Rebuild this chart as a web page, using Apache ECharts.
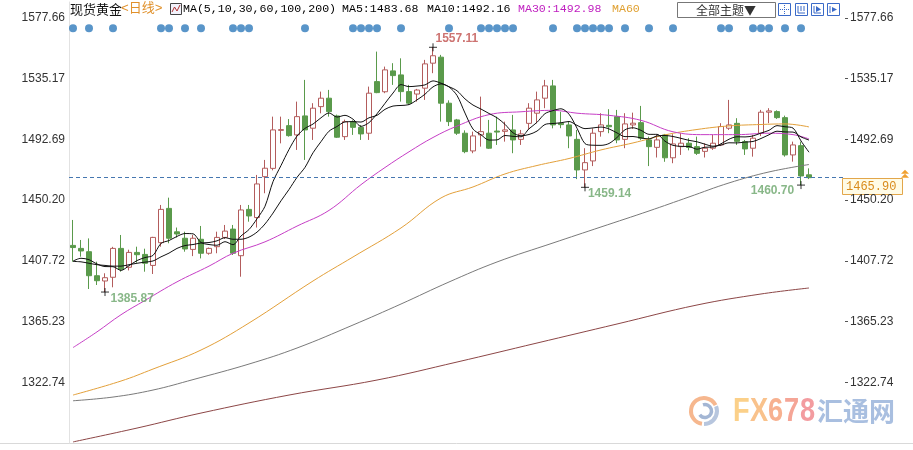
<!DOCTYPE html>
<html><head><meta charset="utf-8">
<script src="https://cdn.jsdelivr.net/npm/echarts@6/dist/echarts.min.js"></script>
<style>html,body{margin:0;padding:0;background:#fff}#c{width:913px;height:450px}</style>
</head><body><div id="c"></div>
<script>
// ---- data ----
const categories = ['2019-07-03','2019-07-04','2019-07-05','2019-07-08','2019-07-09','2019-07-10','2019-07-11','2019-07-12','2019-07-15','2019-07-16',
'2019-07-17','2019-07-18','2019-07-19','2019-07-22','2019-07-23','2019-07-24','2019-07-25','2019-07-26','2019-07-29','2019-07-30',
'2019-07-31','2019-08-01','2019-08-02','2019-08-05','2019-08-06','2019-08-07','2019-08-08','2019-08-09','2019-08-12','2019-08-13',
'2019-08-14','2019-08-15','2019-08-16','2019-08-19','2019-08-20','2019-08-21','2019-08-22','2019-08-23','2019-08-26','2019-08-27',
'2019-08-28','2019-08-29','2019-08-30','2019-09-02','2019-09-03','2019-09-04','2019-09-05','2019-09-06','2019-09-09','2019-09-10',
'2019-09-11','2019-09-12','2019-09-13','2019-09-16','2019-09-17','2019-09-18','2019-09-19','2019-09-20','2019-09-23','2019-09-24',
'2019-09-25','2019-09-26','2019-09-27','2019-09-30','2019-10-01','2019-10-02','2019-10-03','2019-10-04','2019-10-07','2019-10-08',
'2019-10-09','2019-10-10','2019-10-11','2019-10-14','2019-10-15','2019-10-16','2019-10-17','2019-10-18','2019-10-21','2019-10-22',
'2019-10-23','2019-10-24','2019-10-25','2019-10-28','2019-10-29','2019-10-30','2019-10-31','2019-11-01','2019-11-04','2019-11-05',
'2019-11-06','2019-11-07','2019-11-08'];
const opens = [1418.5,1416.4,1414.1,1397.3,1393.6,1396.2,1416.4,1403.2,1413.6,1412.2,
1404.5,1420.4,1444.4,1428.0,1423.5,1415.7,1422.8,1413.0,1417.6,1424.1,
1429.9,1411.3,1443.7,1438.0,1466.6,1472.4,1499.0,1502.3,1495.8,1509.1,
1500.5,1515.6,1521.5,1509.1,1494.6,1505.1,1501.1,1497.0,1533.1,1526.0,
1540.6,1537.8,1526.1,1524.4,1528.5,1546.0,1550.2,1518.0,1506.3,1497.0,
1484.6,1495.8,1497.0,1498.5,1498.3,1499.3,1492.7,1503.9,1511.0,1521.5,
1530.1,1504.0,1502.8,1492.7,1471.3,1477.6,1498.1,1502.5,1508.6,1492.7,
1502.8,1504.4,1492.3,1487.1,1495.8,1479.8,1487.6,1490.0,1487.6,1484.3,
1486.5,1488.8,1500.5,1503.9,1491.1,1486.5,1497.0,1511.7,1512.1,1507.9,
1481.8,1488.3,1467.9];
const closes = [1417.0,1414.6,1397.3,1393.8,1395.9,1416.4,1401.8,1413.6,1412.0,1406.0,
1424.1,1443.7,1423.5,1426.5,1416.0,1423.5,1413.0,1416.4,1424.1,1428.5,
1413.0,1443.3,1439.1,1461.5,1472.5,1499.3,1499.5,1495.3,1508.6,1499.3,
1514.5,1521.5,1512.1,1494.2,1505.1,1501.1,1496.5,1525.0,1525.4,1541.3,
1537.3,1526.1,1518.0,1527.2,1545.5,1551.2,1518.0,1505.1,1497.0,1484.1,
1495.1,1498.1,1486.5,1497.8,1499.3,1492.3,1496.5,1514.5,1520.3,1530.1,
1502.8,1503.0,1495.1,1471.3,1476.4,1497.0,1502.8,1501.5,1492.3,1503.5,
1504.0,1493.5,1487.6,1492.3,1479.8,1489.5,1490.0,1487.0,1482.9,1486.5,
1490.0,1501.7,1502.8,1491.3,1486.0,1493.5,1511.7,1512.6,1507.9,1481.8,
1488.8,1467.1,1465.9];
const lows = [1407.1,1410.6,1388.0,1390.8,1385.87,1389.2,1400.1,1401.0,1406.4,1400.1,
1398.5,1417.6,1420.0,1424.0,1414.1,1411.0,1409.4,1412.0,1413.0,1423.0,
1411.8,1396.6,1435.1,1431.0,1455.0,1471.0,1489.9,1494.6,1485.3,1478.3,
1492.3,1510.9,1508.6,1493.7,1492.3,1495.8,1492.3,1492.3,1525.0,1525.0,
1530.8,1519.1,1516.8,1519.1,1520.3,1539.0,1505.1,1502.0,1495.8,1483.0,
1483.0,1487.6,1486.0,1488.8,1491.1,1483.0,1488.8,1499.3,1504.0,1514.5,
1500.4,1500.5,1486.5,1464.9,1459.14,1474.0,1494.6,1497.0,1490.0,1486.5,
1500.0,1492.3,1474.0,1480.0,1477.0,1476.0,1481.8,1485.0,1481.8,1480.0,
1485.3,1488.0,1499.3,1488.8,1481.8,1480.6,1495.0,1504.0,1507.0,1480.6,
1477.1,1460.70,1464.9];
const highs = [1436.3,1422.3,1423.4,1407.1,1399.0,1417.5,1425.8,1415.5,1417.6,1416.2,
1424.5,1446.8,1451.9,1431.0,1428.1,1425.8,1432.1,1417.0,1428.1,1432.8,
1432.8,1446.8,1446.8,1467.8,1478.3,1508.6,1508.6,1506.9,1519.1,1534.3,
1518.0,1526.1,1527.3,1510.0,1506.5,1506.0,1502.7,1529.6,1554.1,1543.6,
1546.0,1549.4,1530.8,1528.0,1548.3,1557.11,1551.8,1520.0,1507.0,1499.0,
1498.1,1522.6,1506.3,1508.6,1505.1,1509.8,1499.3,1518.0,1526.1,1534.3,
1534.3,1512.0,1505.1,1499.3,1486.5,1500.4,1511.0,1513.8,1513.3,1511.0,
1511.4,1516.1,1494.6,1495.8,1496.5,1496.3,1497.0,1493.5,1494.6,1489.9,
1495.8,1504.0,1520.3,1507.5,1492.3,1495.8,1513.3,1514.5,1513.0,1509.3,
1491.1,1491.1,1472.4];
const ma5 = [1407.5,1409.5,1408.5,1405.5,1403.7,1403.6,1401.0,1404.3,1407.9,1410.0,
1411.5,1419.9,1421.9,1424.8,1426.8,1426.6,1420.5,1419.1,1418.6,1421.1,
1419.0,1425.1,1429.6,1437.1,1445.9,1463.1,1474.4,1485.6,1495.0,1500.4,
1503.4,1507.8,1511.2,1508.3,1509.5,1506.8,1501.8,1504.4,1510.6,1517.9,
1525.1,1531.0,1529.6,1530.0,1530.8,1533.6,1532.0,1529.4,1523.4,1511.1,
1499.9,1495.9,1492.2,1492.3,1495.4,1494.8,1494.5,1500.1,1504.6,1510.7,
1512.8,1514.1,1510.3,1500.5,1489.7,1488.6,1488.5,1489.8,1494.0,1499.4,
1500.8,1499.0,1496.2,1496.2,1491.4,1488.5,1487.8,1487.7,1485.8,1487.2,
1487.3,1489.6,1492.8,1494.5,1494.4,1495.1,1497.1,1499.0,1502.3,1501.5,
1500.6,1491.6,1483.7];
const ma10 = [1407.3,1407.0,1406.0,1405.0,1404.5,1404.0,1404.0,1405.0,1406.0,1406.8,
1407.6,1410.5,1413.1,1416.4,1418.4,1419.1,1420.2,1420.5,1421.7,1423.9,
1422.8,1422.8,1424.3,1427.8,1433.5,1441.1,1449.7,1457.6,1466.1,1473.1,
1483.3,1491.1,1498.4,1501.7,1504.9,1505.1,1504.8,1507.8,1509.5,1513.7,
1516.0,1516.4,1517.0,1520.3,1524.3,1529.4,1531.5,1529.5,1526.7,1521.0,
1516.7,1513.9,1510.8,1507.8,1503.2,1497.3,1495.2,1496.1,1498.5,1503.1,
1503.8,1504.3,1505.2,1502.5,1500.2,1500.7,1501.3,1500.0,1497.2,1494.6,
1494.7,1493.7,1493.0,1495.1,1495.4,1494.7,1493.4,1492.0,1491.0,1489.3,
1487.9,1488.7,1490.3,1490.2,1490.8,1491.2,1493.3,1495.9,1498.4,1497.9,
1497.8,1494.4,1492.2];
// longer averages read at sample candles: [candle index, value]
const ma30 = [[0,1347],[3,1358],[6,1370],[9,1380],[13,1393],[17,1404],[20,1413],[24,1421],[28,1432],[32,1443],[36,1461],[39,1473],[42,1484],[45,1494],[48,1502],[52,1510],[56,1512],[60,1513],[63,1511],[67,1509.5],[71,1506],[75,1498],[79,1496],[83,1496],[87,1497],[90,1496],[92,1493]];
const ma60 = [[0,1313.8],[6,1323.6],[10,1332],[16,1345.3],[22,1364.2],[30,1393.6],[35,1410.4],[41,1430.7],[46,1451.7],[50,1459.4],[54,1468.5],[58,1474.4],[62,1479.3],[66,1485.3],[70,1490.2],[74,1495.8],[78,1499.6],[82,1502.1],[86,1503.1],[89,1503.5],[92,1501.4]];
const ma100 = [[0,1309.8],[5,1312.4],[10,1317.3],[15,1324.6],[22,1335.5],[28,1346.7],[35,1362.8],[41,1377.5],[47,1392.9],[53,1406.9],[60,1420.2],[66,1431.4],[72,1442.6],[77,1452.4],[82,1462.2],[87,1469.9],[92,1475.1]];
const ma200 = [[0,1281],[8,1290.7],[16,1301.2],[27,1313.8],[38,1324.3],[48,1336.9],[58,1350.2],[68,1363.5],[78,1376.8],[86,1384.5],[92,1388.7]];
const tickValues = [1322.74,1365.23,1407.72,1450.20,1492.69,1535.17,1577.66];
const eventIdx = [0,2,5,11,12,14,16,20,21,22,29,35,36,37,38,41,47,51,52,53,54,55,60,63,64,65,66,67,69,72,75,81,82,85,86,87,89,91];
const eventLevel = 1570.5;
const extremeIdx = [45,4,64,91];
const extremeVal = [1557.11,1385.87,1459.14,1460.70];

// ---- chart ----
const chart = echarts.init(document.getElementById('c'));
const yMin = 1280.25, yMax = 1588.8;
const axisCats = categories.concat(['','','','']);
const lastIdx = closes.length - 1;
const lab = (v) => v.toFixed(2);
const extremeLabelStyle = [
  {position:[9,-2], align:'left', verticalAlign:'middle', color:'#c0504d'},
  {position:[12,13.5], align:'left', verticalAlign:'middle', color:'#6aa56a'},
  {position:[9.4,12.4], align:'left', verticalAlign:'middle', color:'#6aa56a'},
  {position:[-0.3,11.7], align:'right', verticalAlign:'middle', color:'#6aa56a'}
];
const monoFont = '"Liberation Mono", "DejaVu Sans Mono", monospace';
const wmFont = 'bold 34px "Liberation Sans", Arial, sans-serif';

const option = {
  animation: false,
  backgroundColor: '#ffffff',
  grid: {left: 69, right: 68, top: 2, bottom: 7},
  xAxis: {type:'category', data: axisCats, boundaryGap: true,
    axisLine:{show:false}, axisTick:{show:false}, axisLabel:{show:false}, splitLine:{show:false}},
  yAxis: [
    {type:'value', position:'left', min:yMin, max:yMax, scale:true,
     axisLine:{show:true, lineStyle:{color:'#e2e2e2'}},
     axisTick:{show:false, customValues: tickValues},
     axisLabel:{customValues: tickValues, formatter: lab, color:'#333', fontFamily:'Liberation Sans', fontSize:12, margin:4},
     splitLine:{show:false}},
    {type:'value', position:'right', min:yMin, max:yMax, scale:true,
     axisLine:{show:false},
     axisTick:{show:true, length:3, customValues: tickValues, lineStyle:{color:'#555'}},
     axisLabel:{customValues: tickValues, formatter: lab, color:'#333', fontFamily:'Liberation Sans', fontSize:12, margin:5},
     splitLine:{show:false}}
  ],
  series: [
    {type:'candlestick', name:'日线', z:2, barWidth:5,
     data: opens.map((o,i) => [o, closes[i], lows[i], highs[i]]),
     itemStyle:{color:'#ffffff', color0:'#5a9a4b', borderColor:'#b35c5c', borderColor0:'#5a9a4b', borderWidth:1},
     markLine:{silent:true, symbol:['none','none'], label:{show:false},
       lineStyle:{color:'#4677b0', type:[4,3], width:1},
       data:[{yAxis: closes[lastIdx]}]}},
    {type:'line', name:'MA200', data: ma200, smooth:0.4, showSymbol:false, z:3, lineStyle:{color:'#8c4646', width:1}},
    {type:'line', name:'MA100', data: ma100, smooth:0.4, showSymbol:false, z:3, lineStyle:{color:'#7a7a7a', width:1}},
    {type:'line', name:'MA60', data: ma60, smooth:0.4, showSymbol:false, z:3, lineStyle:{color:'#e3a03a', width:1}},
    {type:'line', name:'MA30', data: ma30, smooth:0.4, showSymbol:false, z:3, lineStyle:{color:'#c63ec6', width:1}},
    {type:'line', name:'MA10', data: ma10, smooth:0.3, showSymbol:false, z:4, lineStyle:{color:'#111', width:1}},
    {type:'line', name:'MA5', data: ma5, smooth:0.3, showSymbol:false, z:4, lineStyle:{color:'#111', width:1}},
    {type:'scatter', name:'events', z:5, symbolSize:8, itemStyle:{color:'#2f7abc'},
     data: eventIdx.map(i => [i, eventLevel])},
    {type:'scatter', name:'extremes', z:6, symbol:'path://M0,4L8,4M4,0L4,8', symbolSize:8,
     itemStyle:{color:'none', borderColor:'#000', borderWidth:1},
     label:{show:true, fontFamily:'Liberation Sans', fontWeight:'bold', fontSize:12, formatter: p => p.value[1].toFixed(2)},
     data: extremeIdx.map((i,k) => ({value:[i, extremeVal[k]], label: extremeLabelStyle[k]}))}
  ],
  graphic: [
    {id:'bline', type:'line', silent:true, shape:{x1:0, y1:443.5, x2:913, y2:443.5}, style:{stroke:'#d9d9d9', lineWidth:1}},
    {id:'h1', type:'text', x:70, y:9, style:{text:'现货黄金', font:'13px "Noto Sans CJK SC"', fill:'#111', verticalAlign:'middle'}},
    {id:'h2', type:'text', x:121, y:9, style:{text:'<日线>', font:'13px ' + monoFont + ', "Noto Sans CJK SC"', fill:'#e0902a', verticalAlign:'middle'}},
    {id:'ic0', type:'rect', shape:{x:170.5, y:3.5, width:11, height:11}, style:{fill:'#f2f2fb', stroke:'#444', lineWidth:1}},
    {id:'ic1', type:'polyline', shape:{points:[[172,12],[174.5,7],[177,11],[180,5]]}, style:{stroke:'#b03030', lineWidth:1, fill:null}},
    {id:'h3', type:'text', x:183, y:9, style:{text:'MA(5,10,30,60,100,200)', font:'11.6px ' + monoFont, fill:'#000', verticalAlign:'middle'}},
    {id:'h4', type:'text', x:342, y:9, style:{text:'MA5:1483.68', font:'11.6px ' + monoFont, fill:'#000', verticalAlign:'middle'}},
    {id:'h5', type:'text', x:427, y:9, style:{text:'MA10:1492.16', font:'11.6px ' + monoFont, fill:'#000', verticalAlign:'middle'}},
    {id:'h6', type:'text', x:518, y:9, style:{text:'MA30:1492.98', font:'11.6px ' + monoFont, fill:'#c020c0', verticalAlign:'middle'}},
    {id:'h7', type:'text', x:612, y:9, style:{text:'MA60', font:'11.6px ' + monoFont, fill:'#e0a030', verticalAlign:'middle'}},
    {id:'b0', type:'rect', shape:{x:677.5, y:2.5, width:98, height:15}, style:{fill:'#fff', stroke:'#777', lineWidth:1}},
    {id:'b1', type:'text', x:726, y:10, style:{text:'全部主题▼', font:'12px "Noto Sans CJK SC"', fill:'#333', align:'center', verticalAlign:'middle'}},
    {id:'i1', type:'rect', shape:{x:778.5, y:3.5, width:12, height:12}, style:{fill:'#fff', stroke:'#3a6ac8', lineWidth:1}},
    {id:'i1a', type:'polyline', shape:{points:[[784.5,5],[784.5,14]]}, style:{stroke:'#3a6ac8', lineWidth:1, lineDash:[1,1]}},
    {id:'i1b', type:'polyline', shape:{points:[[780,9.5],[789,9.5]]}, style:{stroke:'#3a6ac8', lineWidth:1, lineDash:[1,1]}},
    {id:'i2', type:'rect', shape:{x:795.5, y:3.5, width:12, height:12}, style:{fill:'#fff', stroke:'#3a6ac8', lineWidth:1}},
    {id:'i2a', type:'polyline', shape:{points:[[798,6],[798,13],[805,13]]}, style:{stroke:'#3a6ac8', lineWidth:1, fill:null}},
    {id:'i2b', type:'polyline', shape:{points:[[801,6],[801,11]]}, style:{stroke:'#3a6ac8', lineWidth:1}},
    {id:'i2c', type:'polyline', shape:{points:[[804,6],[804,11]]}, style:{stroke:'#3a6ac8', lineWidth:1}},
    {id:'i3', type:'rect', shape:{x:811.5, y:3.5, width:12, height:12}, style:{fill:'#fff', stroke:'#3a6ac8', lineWidth:1}},
    {id:'i3a', type:'polyline', shape:{points:[[814,6],[814,13],[821,13]]}, style:{stroke:'#3a6ac8', lineWidth:1, fill:null}},
    {id:'i3b', type:'polygon', shape:{points:[[816,6],[821,9.5],[816,12]]}, style:{fill:'#3a6ac8'}},
    {id:'i4', type:'rect', shape:{x:827.5, y:3.5, width:12, height:12}, style:{fill:'#fff', stroke:'#3a6ac8', lineWidth:1}},
    {id:'i4a', type:'polyline', shape:{points:[[830,6],[830,13]]}, style:{stroke:'#3a6ac8', lineWidth:1}},
    {id:'i4b', type:'polygon', shape:{points:[[832,7],[837,9.5],[832,12]]}, style:{fill:'#3a6ac8'}},
    {id:'w1', type:'arc', shape:{cx:704, cy:411, r:13, startAngle:Math.PI*0.55, endAngle:Math.PI*1.85}, style:{stroke:'#f6b78e', lineWidth:4, fill:null}},
    {id:'w2', type:'arc', shape:{cx:704, cy:411, r:13, startAngle:-Math.PI*0.12, endAngle:Math.PI*0.5}, style:{stroke:'#b7c6de', lineWidth:4, fill:null}},
    {id:'w3', type:'arc', shape:{cx:705, cy:411, r:6.5, startAngle:-Math.PI*0.6, endAngle:Math.PI*0.8}, style:{stroke:'#a3b6d4', lineWidth:3.5, fill:null}},
    {id:'wf', type:'text', x:733, y:412, scaleX:0.8, style:{text:'F', font:wmFont, fill:'#fbd089', verticalAlign:'middle'}},
    {id:'wx', type:'text', x:750, y:412, scaleX:0.8, style:{text:'X', font:wmFont, fill:'#f9c28c', verticalAlign:'middle'}},
    {id:'w6', type:'text', x:768, y:412, scaleX:0.8, style:{text:'6', font:wmFont, fill:'#f7b190', verticalAlign:'middle'}},
    {id:'w7', type:'text', x:784, y:412, scaleX:0.8, style:{text:'7', font:wmFont, fill:'#f5a596', verticalAlign:'middle'}},
    {id:'w8', type:'text', x:800, y:412, scaleX:0.8, style:{text:'8', font:wmFont, fill:'#f39ca0', verticalAlign:'middle'}},
    {id:'w5', type:'text', x:817, y:411, style:{text:'汇通网', font:'bold 26px "Noto Sans CJK SC"', fill:'#a9bfe0', verticalAlign:'middle'}}
  ]
};
chart.setOption(option);

// price tag at the last close, placed through the axis scale
const py = chart.convertToPixel({yAxisIndex:0}, closes[lastIdx]);
chart.setOption({graphic:[
  {id:'pb', type:'rect', shape:{x:842.5, y:Math.round(py)+0.5, width:60, height:16}, style:{fill:'#fffbe6', stroke:'#e2a64a', lineWidth:1}},
  {id:'pt', type:'text', x:846, y:py+9, style:{text: closes[lastIdx].toFixed(2), font:'12px ' + monoFont, fill:'#d98b1c', verticalAlign:'middle'}},
  {id:'pa1', type:'polygon', shape:{points:[[905,py-8],[901,py-4],[909,py-4]]}, style:{fill:'#f0a030'}},
  {id:'pa2', type:'polygon', shape:{points:[[905,py-4],[901,py],[909,py]]}, style:{fill:'#f0a030'}}
]});
</script>
</body></html>
